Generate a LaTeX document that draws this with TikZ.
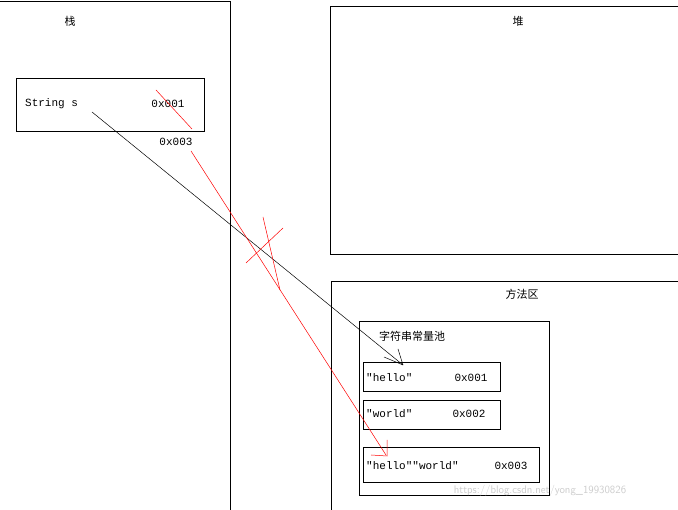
\documentclass[tikz,border=0pt]{standalone}
\usepackage{fontspec}
\setmonofont{Liberation Mono}
\newfontfamily\cjk{Noto Sans CJK SC}
\begin{document}
\begin{tikzpicture}[x=1pt,y=-1pt,
  box/.style={draw,line width=0.8pt},
  lbl/.style={font=\cjk\fontsize{11}{13}\selectfont,inner sep=0},
  code/.style={font=\ttfamily\fontsize{11}{13}\selectfont,inner sep=0},
  ln/.style={line width=0.5pt}]
\useasboundingbox (0,0) rectangle (678,510);
% stack
\draw[box] (0,1) -- (230,1) -- (230,510);
\node[lbl] (zhan) at (70,21) {栈};
\draw[box] (16,78) rectangle (204,131);
\node[code,anchor=west] (s) at (25,104) {String s};
\node[code] (a1) at (168,104) {0x001};
\node[code] (a3) at (176,142) {0x003};
% heap
\draw[box] (330,6) rectangle (678,254);
\node[lbl] (dui) at (518,21) {堆};
% method area
\draw[box] (331,510) -- (331,281) -- (678,281);
\node[lbl] (ff) at (522,294) {方法区};
\draw[box] (359,321) rectangle (549,495);
\node[lbl] (pool) at (412,336) {字符串常量池};
\draw[box] (363,362) rectangle (500,391);
\node[code,anchor=west] (h) at (366,378) {"hello"};
\node[code] (h1) at (471,378) {0x001};
\draw[box] (363,400) rectangle (500,429);
\node[code,anchor=west] (w) at (366,414) {"world"};
\node[code] (w1) at (469,414) {0x002};
\draw[box] (363,447) rectangle (539,482);
\node[code,anchor=west] (hw) at (366,466) {"hello""world"};
\node[code] (hw1) at (511,466) {0x003};
% connectors
\coordinate (bs) at (92,112);
\coordinate (be) at (403,365);
\draw[ln] (bs) -- (be);
\draw[ln] (be) -- (384,357) (be) -- (398,349);
\coordinate (rs) at (191,151);
\coordinate (re) at (386,455);
\draw[ln,red] (rs) -- (re);
\draw[ln,red] (387,440) -- (387,456) -- (371,455);
\draw[ln,red] (156,90) -- (192,129);
\draw[ln,red] (263,217) -- (280,290);
\draw[ln,red] (283,228) -- (246,263);
\node[font=\sffamily\fontsize{11}{13}\selectfont,text=gray!40] (wm) at (540,491) {https://blog.csdn.net/yong\_19930826};
\end{tikzpicture}
\end{document}
